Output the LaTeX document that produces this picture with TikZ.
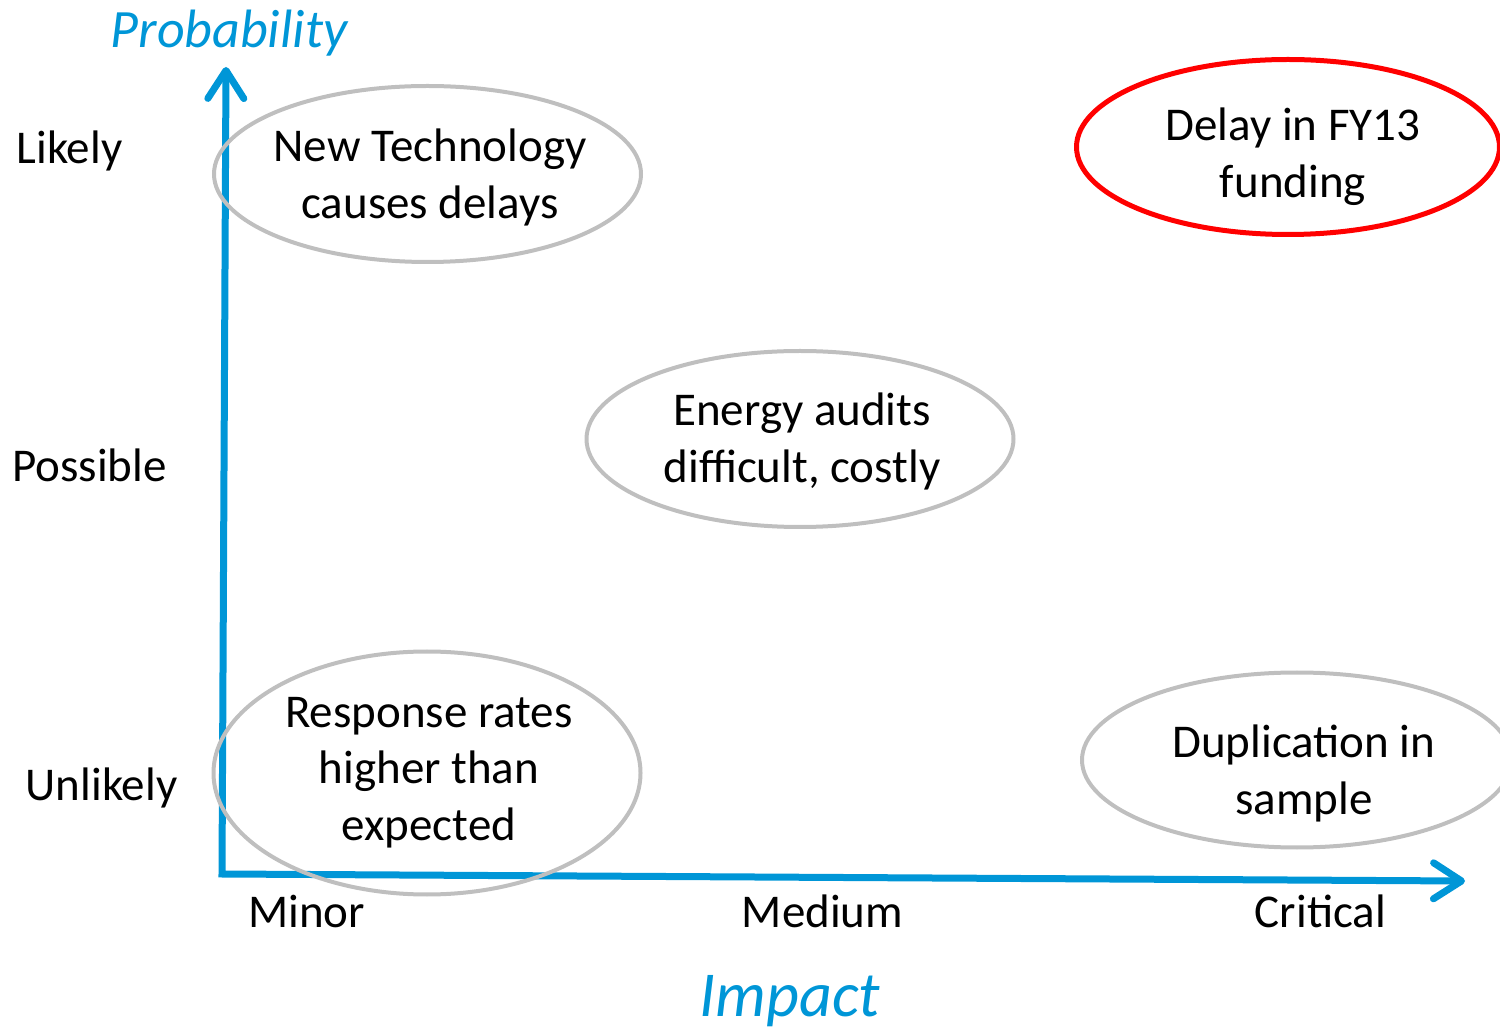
\documentclass[tikz,border=0pt]{standalone}
\usepackage{fontspec}
\setmainfont{Carlito}
\usetikzlibrary{arrows.meta,shapes.geometric}
\definecolor{axisblue}{RGB}{0,150,215}
\definecolor{ringgray}{RGB}{191,191,191}
\definecolor{ringred}{RGB}{255,0,0}
\tikzset{
  ring/.style={ellipse, draw=ringgray, line width=2pt, inner sep=0pt, minimum width=213.5pt, minimum height=88pt},
  redring/.style={ellipse, draw=ringred, line width=2.5pt, inner sep=0pt},
  risktext/.style={align=center, anchor=base, inner sep=0pt, font=\fontsize{23.5pt}{28.5pt}\selectfont},
  levellabel/.style={anchor=base, inner sep=0pt, font=\fontsize{23.5pt}{28.5pt}\selectfont},
  axistitle/.style={anchor=base, inner sep=0pt, text=axisblue},
  axisline/.style={draw=axisblue, line width=3.5pt, line join=miter,
    arrows={Straight Barb[length=14pt,width=18pt,line cap=round,line join=round]-Straight Barb[length=14pt,width=18pt,line cap=round,line join=round]}}
}
\begin{document}
\begin{tikzpicture}[x=0.5pt,y=-0.5pt]
\useasboundingbox (0,0) rectangle (1500,1031);
% axes
\coordinate (ytip) at (226,67);
\coordinate (origin) at (222,874);
\coordinate (xtip) at (1465,881);
\draw[axisline] (ytip) -- (origin) -- (xtip);
% axis titles
\node[axistitle, font=\fontsize{27pt}{32pt}\selectfont\itshape] (prob) at (229,48) {Probability};
\node[axistitle, font=\fontsize{32pt}{38pt}\selectfont\itshape] (impact) at (790,1016) {Impact};
% level labels
\node[levellabel] (likely) at (69.5,164) {Likely};
\node[levellabel] (possible) at (89.5,482) {Possible};
\node[levellabel] (unlikely) at (101.5,800) {Unlikely};
\node[levellabel] (minor) at (306.5,927) {Minor};
\node[levellabel] (medium) at (822.5,927) {Medium};
\node[levellabel] (critical) at (1320.5,927) {Critical};
% risks
\node[ring] (newtech) at (427.5,174) {};
\node[risktext] (newtechtxt) at (430,219) {New Technology\\causes delays};
\node[ring] (energy) at (800,439) {};
\node[risktext] (energytxt) at (802,483) {Energy audits\\difficult, costly};
\node[ring, minimum height=121.5pt] (response) at (427,773) {};
\node[risktext] (responsetxt) at (429,841) {Response rates\\higher than\\expected};
\node[ring, minimum height=87.5pt, minimum width=215pt] (dup) at (1297,760) {};
\node[risktext] (duptxt) at (1304,814) {Duplication in\\sample};
\node[redring, minimum width=211.5pt, minimum height=87.5pt] (delay) at (1288,147) {};
\node[risktext] (delaytxt) at (1293,198) {Delay in FY13\\funding};
\end{tikzpicture}
\end{document}
